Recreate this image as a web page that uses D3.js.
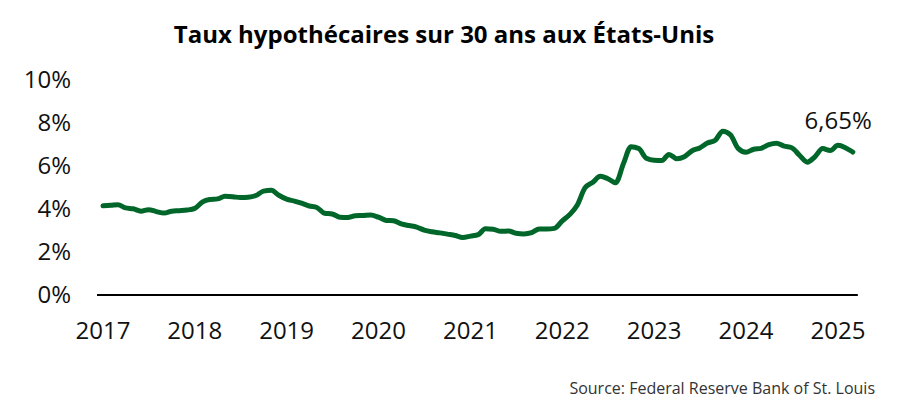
<!DOCTYPE html>
<html lang="fr">
<head>
    <meta charset="UTF-8">
    <title>Taux hypothécaires sur 30 ans aux États-Unis</title>
    <script src="https://d3js.org/d3.v7.min.js"></script>
    <style>
        body { margin: 0; background: #fff; }
        svg { font-family: "Open Sans", sans-serif; }
    </style>
</head>
<body>
<div id="chart"></div>
<script>
// monthly averages, Jan 2017 -> Mar 2025
const rates2017 = [4.15, 4.17, 4.20, 4.05, 4.01, 3.90, 3.97, 3.88, 3.81, 3.90, 3.92, 3.95];
const rates2018 = [4.03, 4.33, 4.44, 4.47, 4.59, 4.57, 4.53, 4.55, 4.63, 4.83, 4.87, 4.64];
const rates2019 = [4.46, 4.37, 4.27, 4.14, 4.07, 3.80, 3.77, 3.62, 3.61, 3.69, 3.70, 3.72];
const rates2020 = [3.62, 3.47, 3.45, 3.31, 3.23, 3.16, 3.02, 2.94, 2.89, 2.83, 2.77, 2.68];
const rates2021 = [2.74, 2.81, 3.08, 3.06, 2.96, 2.98, 2.87, 2.84, 2.90, 3.07, 3.07, 3.10];
const rates2022 = [3.45, 3.76, 4.17, 4.98, 5.23, 5.52, 5.41, 5.22, 6.11, 6.90, 6.81, 6.36];
const rates2023 = [6.27, 6.26, 6.54, 6.34, 6.43, 6.71, 6.84, 7.07, 7.20, 7.62, 7.44, 6.82];
const rates2024 = [6.64, 6.78, 6.82, 6.99, 7.06, 6.92, 6.85, 6.50, 6.18, 6.43, 6.81, 6.72];
const rates2025 = [6.96, 6.84, 6.65];

const years = [2017, 2018, 2019, 2020, 2021, 2022, 2023, 2024, 2025];
const yTicks = [0, 2, 4, 6, 8, 10];
const lastLabel = "6,65%";

const allRates = [rates2017, rates2018, rates2019, rates2020, rates2021,
                  rates2022, rates2023, rates2024, rates2025];

const data = [];
allRates.forEach((arr, i) => {
    arr.forEach((v, m) => data.push({ date: new Date(years[i], m, 1), value: v }));
});

const width = 898, height = 419;
const svg = d3.select("#chart").append("svg")
    .attr("width", width)
    .attr("height", height);

const x = d3.scaleTime()
    .domain([new Date(2017, 0, 1), new Date(2025, 0, 1)])
    .range([103, 838]);

const y = d3.scaleLinear()
    .domain([0, 10])
    .range([295, 80]);

// title
svg.append("text")
    .attr("x", 444)
    .attr("y", 43)
    .attr("text-anchor", "middle")
    .attr("font-size", 24)
    .attr("font-weight", "bold")
    .attr("fill", "#000")
    .text("Taux hypothécaires sur 30 ans aux États-Unis");

// y labels
svg.selectAll(".ylab")
    .data(yTicks)
    .enter().append("text")
    .attr("class", "ylab")
    .attr("x", 71)
    .attr("y", d => y(d))
    .attr("dy", "0.35em")
    .attr("text-anchor", "end")
    .attr("font-size", 24)
    .attr("fill", "#111")
    .text(d => d + "%");

// x labels
svg.selectAll(".xlab")
    .data(years)
    .enter().append("text")
    .attr("class", "xlab")
    .attr("x", d => x(new Date(d, 0, 1)))
    .attr("y", 339)
    .attr("text-anchor", "middle")
    .attr("font-size", 24)
    .attr("fill", "#111")
    .text(d => d);

// baseline
svg.append("line")
    .attr("x1", x(data[0].date) - 6)
    .attr("x2", x(data[data.length - 1].date) + 5)
    .attr("y1", y(0))
    .attr("y2", y(0))
    .attr("stroke", "#000")
    .attr("stroke-width", 2);

// rate line
const line = d3.line()
    .x(d => x(d.date))
    .y(d => y(d.value))
    .curve(d3.curveMonotoneX);

svg.append("path")
    .datum(data)
    .attr("fill", "none")
    .attr("stroke", "#006629")
    .attr("stroke-width", 5)
    .attr("stroke-linejoin", "round")
    .attr("stroke-linecap", "round")
    .attr("d", line);

// last value label
const last = data[data.length - 1];
svg.append("text")
    .attr("x", x(last.date) + 19)
    .attr("y", 129)
    .attr("text-anchor", "end")
    .attr("font-size", 24)
    .attr("fill", "#111")
    .text(lastLabel);

// source
svg.append("text")
    .attr("x", 875)
    .attr("y", 394)
    .attr("text-anchor", "end")
    .attr("font-size", 16)
    .attr("fill", "#333")
    .text("Source: Federal Reserve Bank of St. Louis");
</script>
</body>
</html>
